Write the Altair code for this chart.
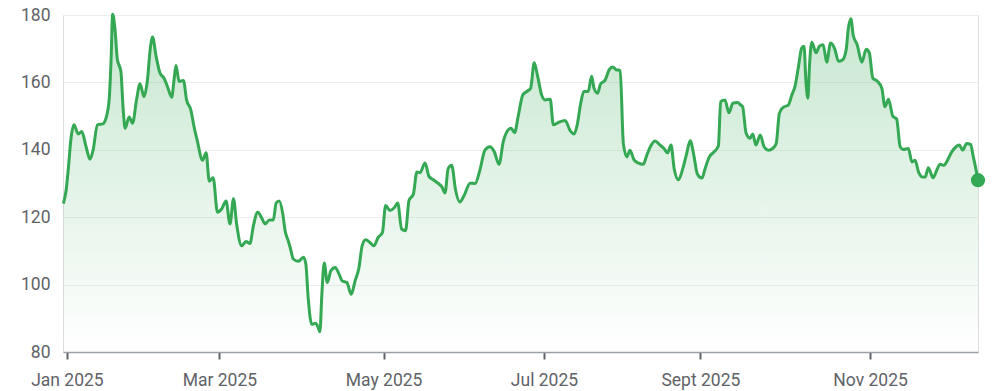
import altair as alt
import pandas as pd

# trading-session index (x) and price (y)
session = [
    0.1, 0.8, 1.4, 2.0, 2.8, 3.9, 4.8, 5.9, 6.9, 7.7, 8.8, 10.2, 11.0, 11.8, 12.3, 12.7,
    13.3, 13.9, 14.8, 15.4, 15.9, 16.9, 17.8, 18.8, 19.7, 20.7, 21.6, 22.3, 22.9, 23.8,
    24.8, 25.8, 26.7, 27.8, 28.4, 28.9, 29.7, 30.8, 31.6, 32.7, 33.5, 34.3, 35.7, 36.6,
    37.4, 38.4, 39.5, 40.6, 41.7, 42.7, 43.6, 44.4, 45.7, 46.8, 47.8, 48.7, 49.8, 50.8,
    51.7, 52.8, 53.8, 54.5, 55.3, 56.2,
    56.8, 57.6, 58.1, 58.9, 60.2, 61.5, 62.1, 62.7, 63.6, 64.6, 65.1, 65.7, 66.2, 66.8,
    67.6, 68.5, 69.6, 70.6, 71.4, 72.6, 73.7, 74.7, 75.7, 76.5, 77.4, 78.5, 79.5, 80.6,
    81.7, 82.5, 83.6, 84.7, 85.6, 86.6, 87.6, 88.5, 89.6, 90.5, 91.3, 92.6, 93.6, 94.7,
    96.0, 96.9, 97.7, 98.5, 99.4, 100.4, 101.5, 102.6, 104.1, 105.4, 106.6, 107.9, 109.2,
    110.3, 111.5, 112.6, 113.7, 114.6,
    115.5, 116.4, 117.6, 118.6, 119.6, 120.5, 121.3, 122.4, 123.3, 124.6, 125.4, 126.7,
    128.4, 129.7, 130.7, 131.5, 132.4, 133.2, 134.3, 135.2, 135.8, 136.7, 137.5, 138.6,
    139.7, 140.6, 141.4, 142.5, 143.3, 144.2, 145.0, 146.0, 147.1, 148.4, 149.3, 150.3,
    151.4, 152.7, 153.7, 154.6, 155.5, 156.3, 157.4, 158.5, 159.5, 160.4, 161.4, 162.2,
    163.4, 164.2, 165.3, 166.5, 167.6, 168.2, 169.3, 170.3, 171.3, 172.5,
    173.3, 173.8, 174.7, 175.7, 176.4, 177.2, 178.3, 179.3, 180.4, 181.5, 182.4, 183.2,
    184.2, 185.5, 186.4, 187.2, 188.1, 188.9, 189.5, 190.0, 190.5, 190.9, 191.5, 192.6,
    193.4, 194.4, 195.3, 196.3, 197.4, 198.3, 199.3, 200.3, 200.8, 201.5, 202.1, 203.1,
    204.3, 205.4, 206.2, 207.1, 208.3, 209.4, 210.2, 211.1, 212.2, 213.2, 214.1, 214.9,
    216.2, 217.1, 217.9, 218.8, 219.9, 220.5, 221.3, 222.5, 223.5, 224.3, 225.3, 226.2,
    227.3, 228.4, 229.2, 230.1, 231.1, 232.1, 232.8, 233.7, 234.0,
]
price = [
    124.0, 128.0, 134.9, 142.9, 147.4, 144.7, 145.4, 140.9, 137.2, 139.9, 147.4, 147.7, 149.4, 154.8, 166.8, 180.2,
    175.7, 166.8, 163.3, 151.8, 146.4, 149.7, 147.9, 154.8, 159.6, 155.8, 160.8, 169.8, 173.5, 167.8,
    162.8, 161.3, 158.8, 155.6, 160.8, 165.0, 160.3, 160.6, 154.8, 151.8, 146.9, 142.9, 136.9, 139.1,
    130.7, 131.7, 121.5, 122.5, 124.8, 118.0, 125.5, 118.0, 111.5, 112.8, 112.2, 117.5, 121.5, 119.8,
    118.0, 119.2, 119.2, 124.2, 124.8, 121.0,
    116.0, 113.0, 111.0, 107.6, 106.9, 108.1, 106.1, 96.1, 88.2, 88.5, 87.7, 86.0, 97.1, 106.4,
    100.6, 104.1, 105.1, 103.1, 101.1, 100.6, 97.1, 101.1, 105.1, 111.5, 113.3, 112.5, 111.5, 114.0,
    115.5, 123.5, 122.0, 122.8, 124.2, 116.5, 116.0, 125.0, 126.8, 133.4, 133.2, 136.1, 132.1, 131.1,
    130.0, 129.0, 127.2, 134.4, 135.4, 128.0, 124.5, 126.5, 130.1, 130.0, 133.9, 139.9, 140.9,
    139.4, 135.7, 142.4, 145.7, 146.4,
    145.1, 149.9, 156.3, 157.3, 158.3, 165.8, 162.3, 156.3, 154.8, 155.0, 147.4, 148.1,
    148.7, 145.7, 144.7, 147.4, 153.8, 157.3, 157.3, 161.8, 158.3, 156.8, 159.6, 160.6,
    163.8, 164.6, 163.8, 163.5, 141.9, 137.9, 139.9, 137.1, 136.1, 135.7, 138.4, 141.1,
    142.6, 141.4, 140.4, 139.1, 141.4, 134.4, 131.1, 134.4, 138.9, 142.7, 137.9, 132.9,
    131.6, 134.4, 137.9, 139.4, 141.1, 154.3, 154.8, 151.0, 153.8, 154.0,
    153.3, 152.8, 144.9, 143.4, 144.7, 141.4, 144.4, 140.9, 139.9, 140.4, 141.9, 150.8,
    152.6, 153.3, 156.3, 158.8, 164.8, 170.2, 170.7, 160.3, 155.3, 164.8, 171.9, 168.8,
    170.7, 171.2, 166.0, 171.7, 169.8, 166.3, 166.6, 169.8, 175.7, 178.9, 173.9, 171.2,
    166.0, 169.8, 168.8, 161.3, 160.3, 158.3, 152.8, 155.0, 150.0, 149.1, 140.9, 140.1,
    140.4, 136.4, 136.9, 133.4, 131.9, 131.9, 134.7, 131.7, 134.1, 135.7, 135.4, 136.9,
    139.4, 140.9, 141.4, 139.9, 141.9, 141.6, 137.9, 132.9, 131.0,
]

tick_values = [1, 40, 82, 123, 163, 206.4]
tick_labels = ["Jan 2025", "Mar 2025", "May 2025", "Jul 2025", "Sept 2025", "Nov 2025"]
y_ticks = [80, 100, 120, 140, 160, 180]

df = pd.DataFrame({"t": session, "p": price})
last = df.tail(1)

GREEN = "#34a853"
LABEL = "#5f6368"
FONT = "Roboto"

label_expr = " : ".join(
    f"datum.value == {v} ? '{l}'" for v, l in zip(tick_values, tick_labels)
) + " : ''"

x_scale = alt.Scale(domain=[0, 234], nice=False, zero=False)
y_scale = alt.Scale(domain=[80, 180], nice=False, zero=False)

x_axis = alt.Axis(
    values=tick_values, labelExpr=label_expr, title=None, grid=False,
    domainColor="#9aa0a6", domainWidth=1.5, tickColor=LABEL, tickWidth=2, tickSize=7,
    labelColor=LABEL, labelFont=FONT, labelFontSize=17.5, labelPadding=12,
    labelFlush=False, labelOverlap=False,
)
y_axis = alt.Axis(
    values=y_ticks, title=None, domain=False, ticks=False, grid=True,
    gridColor="#eeeeee", gridWidth=1, labelColor=LABEL, labelFont=FONT,
    labelFontSize=17.5, labelPadding=13,
)

gradient = alt.Gradient(
    gradient="linear",
    stops=[
        alt.GradientStop(color="rgba(52,168,83,0.28)", offset=0),
        alt.GradientStop(color="rgba(52,168,83,0.0)", offset=1),
    ],
    x1=1, x2=1, y1=0, y2=1,
)

base = alt.Chart(df).encode(
    x=alt.X("t:Q", scale=x_scale, axis=x_axis),
    y=alt.Y("p:Q", scale=y_scale, axis=y_axis),
)

area = base.mark_area(interpolate="monotone", color=gradient).encode(y2=alt.datum(80))
line = base.mark_line(interpolate="monotone", color=GREEN, strokeWidth=3)
dot = alt.Chart(last).mark_circle(color=GREEN, opacity=1, size=200).encode(
    x=alt.X("t:Q", scale=x_scale), y=alt.Y("p:Q", scale=y_scale)
)

chart = (
    alt.layer(area, line, dot)
    .properties(
        width=915, height=337,
        autosize=alt.AutoSizeParams(type="none"),
        padding={"left": 63, "top": 15, "right": 30, "bottom": 39},
    )
    .configure_view(stroke=None)
    .configure(background="white")
)

chart.save("out.html", embed_options={"renderer": "svg", "actions": False})
